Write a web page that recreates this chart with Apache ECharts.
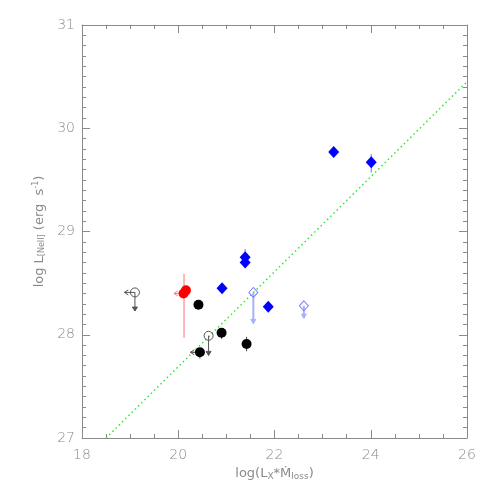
<!DOCTYPE html>
<html>
<head>
<meta charset="utf-8">
<script src="https://cdn.jsdelivr.net/npm/echarts@6/dist/echarts.min.js"></script>
<style>
  html, body { margin: 0; padding: 0; background: #fff; }
  #chart { width: 491px; height: 491px; }
</style>
</head>
<body>
<div id="chart"></div>
<script>
// detections (black filled circles)
var blackPts = [[20.42, 28.29], [20.90, 28.02], [20.45, 27.83], [21.42, 27.91]]
// upper limits (black open circles)
var blackLim = [[19.10, 28.41], [20.63, 27.99]]
// red points
var redPts = [[20.16, 28.43], [20.11, 28.40]]
// blue filled diamonds
var bluePts = [[20.91, 28.45], [21.87, 28.27], [21.39, 28.75], [21.39, 28.70], [23.23, 29.77], [24.01, 29.67]]
// blue open diamonds (upper limits)
var blueLim = [[21.56, 28.41], [22.61, 28.28]]
// error bars: [x, yLow, yHigh]
var blackErr = [[20.90, 27.96, 28.02], [20.45, 27.77, 27.83], [21.42, 27.84, 27.98]]
var redErr = [[20.12, 27.97, 28.59]]
var blueErr = [[21.39, 28.68, 28.83], [24.01, 29.57, 29.75]]
// arrows: [x, y, dx, dy]
var blackArrows = [[19.10, 28.41, -0.22, 0], [19.10, 28.41, 0, -0.18], [20.63, 27.99, 0, -0.19], [20.45, 27.83, -0.2, 0]]
var redArrows = [[20.11, 28.40, -0.2, 0]]
var blueArrows = [[21.56, 28.41, 0, -0.30], [22.61, 28.28, 0, -0.12]]
// fit line
var fitLine = [[18.5, 27.0], [26.0, 30.45]]

var gray = '#8a8a8a'
var chart = echarts.init(document.getElementById('chart'))

function errBars(data, color) {
  return {
    type: 'custom',
    z: 1,
    renderItem: function(params, api) {
      var a = api.coord([api.value(0), api.value(1)])
      var b = api.coord([api.value(0), api.value(2)])
      return {
        type: 'line',
        shape: { x1: a[0], y1: a[1], x2: b[0], y2: b[1] },
        style: { stroke: color, lineWidth: 1 }
      }
    },
    data: data
  }
}

function arrows(data, color, width) {
  return {
    type: 'custom',
    z: 1,
    renderItem: function(params, api) {
      var a = api.coord([api.value(0), api.value(1)])
      var b = api.coord([api.value(0) + api.value(2), api.value(1) + api.value(3)])
      var dx = b[0] - a[0]
      var dy = b[1] - a[1]
      var len = Math.sqrt(dx * dx + dy * dy)
      var ux = dx / len
      var uy = dy / len
      var h = 4
      var w = 2.5
      var head = [
        [b[0] - ux * h + uy * w, b[1] - uy * h - ux * w],
        [b[0], b[1]],
        [b[0] - ux * h - uy * w, b[1] - uy * h + ux * w]
      ]
      var down = Math.abs(uy) > 0.5
      return {
        type: 'group',
        children: [
          {
            type: 'line',
            shape: { x1: a[0], y1: a[1], x2: b[0], y2: b[1] },
            style: { stroke: color, lineWidth: width }
          },
          down ? {
            type: 'polygon',
            shape: { points: head },
            style: { fill: color, stroke: color, lineWidth: 1 }
          } : {
            type: 'polyline',
            shape: { points: head },
            style: { stroke: color, lineWidth: 1, fill: null }
          }
        ]
      }
    },
    data: data
  }
}

var axisCommon = {
  min: 18,
  max: 26,
  interval: 2,
  axisLine: { show: true, onZero: false, lineStyle: { color: gray, width: 1 } },
  axisTick: { show: true, inside: true, length: 8, lineStyle: { color: gray } },
  minorTick: { show: true, splitNumber: 4, length: 4, lineStyle: { color: gray } },
  splitLine: { show: false }
}
var yCommon = {
  min: 27,
  max: 31,
  interval: 1,
  axisLine: { show: true, onZero: false, lineStyle: { color: gray, width: 1 } },
  axisTick: { show: true, inside: true, length: 8, lineStyle: { color: gray } },
  minorTick: { show: true, splitNumber: 10, length: 4, lineStyle: { color: gray } },
  splitLine: { show: false }
}

chart.setOption({
  animation: false,
  backgroundColor: '#fff',
  grid: { left: 82, right: 24, top: 25, bottom: 53 },
  xAxis: [
    Object.assign({}, axisCommon, {
      type: 'value',
      position: 'bottom',
      axisLabel: { color: gray, fontSize: 14, margin: 10, fontFamily: 'DejaVu Sans', fontWeight: 'lighter' },
      name: '{n|log(L}{s|X}{n|*Ṁ}{s|loss}{n|)}',
      nameLocation: 'middle',
      nameGap: 27,
      nameTextStyle: {
        rich: {
          n: { color: gray, fontSize: 13, fontFamily: 'DejaVu Sans' },
          s: { color: gray, fontSize: 9, fontFamily: 'DejaVu Sans', verticalAlign: 'bottom', padding: [6, 0, 0, 0] }
        }
      }
    }),
    Object.assign({}, axisCommon, {
      type: 'value',
      position: 'top',
      axisLabel: { show: false }
    })
  ],
  yAxis: [
    Object.assign({}, yCommon, {
      type: 'value',
      position: 'left',
      axisLabel: { color: gray, fontSize: 14, margin: 7, fontFamily: 'DejaVu Sans', fontWeight: 'lighter' },
      name: '{n|log L}{s|[NeII]}{n| (erg  s}{p|-1}{n|)}',
      nameLocation: 'middle',
      nameRotate: 90,
      nameGap: 24,
      nameTextStyle: {
        rich: {
          n: { color: gray, fontSize: 13, fontFamily: 'DejaVu Sans' },
          s: { color: gray, fontSize: 8, fontFamily: 'DejaVu Sans', verticalAlign: 'bottom', padding: [6, 0, 0, 0] },
          p: { color: gray, fontSize: 8, fontFamily: 'DejaVu Sans', verticalAlign: 'top', padding: [0, 0, 6, 0] }
        }
      }
    }),
    Object.assign({}, yCommon, {
      type: 'value',
      position: 'right',
      axisLabel: { show: false }
    })
  ],
  series: [
    {
      type: 'line',
      data: fitLine,
      symbol: 'none',
      lineStyle: { color: '#33e633', width: 1.5, type: [1.5, 3] },
      z: 0
    },
    errBars(blackErr, '#444'),
    errBars(redErr, '#ff7070'),
    errBars(blueErr, '#7070ff'),
    arrows(blackArrows, '#555', 1),
    arrows(redArrows, '#ff8080', 1),
    arrows(blueArrows, '#a8b0ff', 2),
    {
      type: 'scatter',
      data: blackPts,
      symbol: 'circle',
      symbolSize: 10,
      itemStyle: { color: '#000', opacity: 1 },
      z: 3
    },
    {
      type: 'scatter',
      data: blackLim,
      symbol: 'circle',
      symbolSize: 9,
      itemStyle: { color: 'rgba(0,0,0,0)', borderColor: '#555', borderWidth: 1, opacity: 1 },
      z: 3
    },
    {
      type: 'scatter',
      data: redPts,
      symbol: 'circle',
      symbolSize: 10,
      itemStyle: { color: '#ff0000', opacity: 1 },
      z: 3
    },
    {
      type: 'scatter',
      data: bluePts,
      symbol: 'diamond',
      symbolSize: [11, 12],
      itemStyle: { color: '#0000ff', opacity: 1 },
      z: 3
    },
    {
      type: 'scatter',
      data: blueLim,
      symbol: 'diamond',
      symbolSize: [9, 10],
      itemStyle: { color: 'rgba(0,0,0,0)', borderColor: '#8080ff', borderWidth: 1, opacity: 1 },
      z: 3
    }
  ]
})
</script>
</body>
</html>
